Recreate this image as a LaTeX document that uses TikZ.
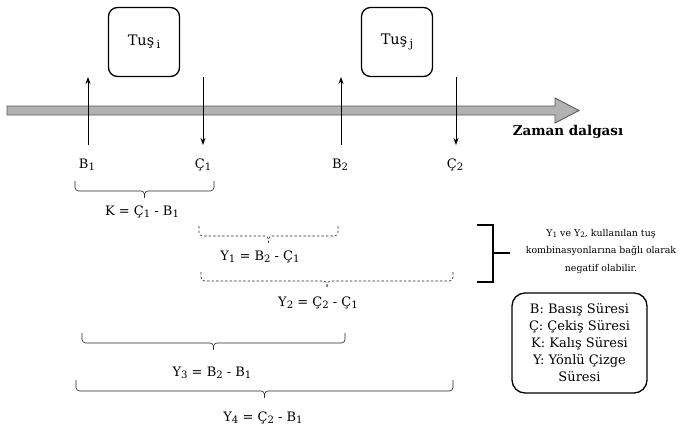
\documentclass[tikz,border=0pt]{standalone}
\usepackage{fontspec}
\usepackage{graphicx}
\setmainfont{DejaVu Serif}
\usetikzlibrary{arrows.meta,calc}
\newcommand{\lo}[1]{\raisebox{-0.3ex}{\scalebox{0.78}{#1}}}
% flat brace under a span: ends hang down, short cusp in the middle
\newcommand{\spanbrace}[4]{%
  \draw[#1,rounded corners=3.5pt] (#2) |- ($(#2)!.5!(#3)+(0,#4)$) -- ++(0,6.5);
  \draw[#1,rounded corners=3.5pt] (#3) |- ($(#2)!.5!(#3)+(0,#4)$) -- ++(0,6.5);}
\begin{document}
\begin{tikzpicture}[x=1pt,y=-1pt,
  keybox/.style={draw,line width=1.3pt,rounded corners=9pt,minimum width=71pt,minimum height=69pt,inner sep=0pt,font=\fontsize{14.5}{16}\selectfont},
  evt/.style={line width=0.8pt,-{Stealth[length=7pt,width=5pt]}},
  lbl/.style={font=\fontsize{13}{15}\selectfont,inner sep=1pt},
  brc/.style={line width=0.6pt,draw=black!85},
  dbrc/.style={brc,dash pattern=on 2.5pt off 2pt},
  note/.style={font=\fontsize{9.4}{17.5}\selectfont,align=center,inner sep=0pt},
  legend/.style={draw,line width=1.3pt,rounded corners=13pt,minimum width=135pt,minimum height=100pt,align=center,inner sep=0pt,font=\fontsize{13}{17}\selectfont}]
\useasboundingbox (0,0) rectangle (683,436);

% key boxes
\node[keybox] (ki) at (144,42) {Tuş\,\lo{i}};
\node[keybox] (kj) at (397,42) {Tuş\,\lo{j}};

% time axis as a fat arrow
\draw[draw=black!65,fill=black!30,line width=0.9pt]
  (7,106) -- (555,106) -- (555,98) -- (579,110.5) -- (555,123) -- (555,115) -- (7,115) -- cycle;
\node[font=\bfseries\fontsize{13.5}{15}\selectfont,anchor=center] (zd) at (568,132) {Zaman dalgası};

% press / release events
\coordinate (b1l) at (88,145); \coordinate (b1h) at (88,77);
\coordinate (c1h) at (203,77); \coordinate (c1l) at (203,145);
\coordinate (b2l) at (341,145); \coordinate (b2h) at (341,77);
\coordinate (c2h) at (456,77); \coordinate (c2l) at (456,145);
\draw[evt] (b1l) -- (b1h);
\draw[evt] (c1h) -- (c1l);
\draw[evt] (b2l) -- (b2h);
\draw[evt] (c2h) -- (c2l);

\node[lbl] (B1) at (87,165) {B\lo{1}};
\node[lbl] (C1) at (203,165) {Ç\lo{1}};
\node[lbl] (B2) at (340,165) {B\lo{2}};
\node[lbl] (C2) at (455,165) {Ç\lo{2}};

% hold time
\coordinate (kL) at (75,181); \coordinate (kR) at (214,181);
\spanbrace{brc}{kL}{kR}{10}
\node[lbl] (K) at (142,212) {K = Ç\lo{1} - B\lo{1}};

% flight times
\coordinate (y1L) at (199,226); \coordinate (y1R) at (338,226);
\spanbrace{dbrc}{y1L}{y1R}{10}
\node[lbl] (Y1) at (260,257) {Y\lo{1} = B\lo{2} - Ç\lo{1}};

\coordinate (y2L) at (201,272); \coordinate (y2R) at (453,272);
\spanbrace{dbrc}{y2L}{y2R}{9}
\node[lbl] (Y2) at (318,303) {Y\lo{2} = Ç\lo{2} - Ç\lo{1}};

\coordinate (y3L) at (82,333); \coordinate (y3R) at (345,333);
\spanbrace{brc}{y3L}{y3R}{10}
\node[lbl] (Y3) at (212,373) {Y\lo{3} = B\lo{2} - B\lo{1}};

\coordinate (y4L) at (76,380); \coordinate (y4R) at (453,380);
\spanbrace{brc}{y4L}{y4R}{11}
\node[lbl] (Y4) at (263,418) {Y\lo{4} = Ç\lo{2} - B\lo{1}};

% side note on Y1 and Y2
\coordinate (sbT) at (477,225); \coordinate (sbB) at (477,282);
\coordinate (sbM) at (510,253);
\draw[line width=1.8pt] (sbT) -- (493,225) -- (493,282) -- (sbB);
\draw[line width=1.8pt] (493,253) -- (sbM);
\node[note] (nt) at (601,251) {Y\lo{1} ve Y\lo{2}, kullanılan tuş\\kombinasyonlarına bağlı olarak\\negatif olabilir.};

% legend
\node[legend] (lg) at (579.5,343) {B: Basış Süresi\\Ç: Çekiş Süresi\\K: Kalış Süresi\\Y: Yönlü Çizge\\Süresi};
\end{tikzpicture}
\end{document}
